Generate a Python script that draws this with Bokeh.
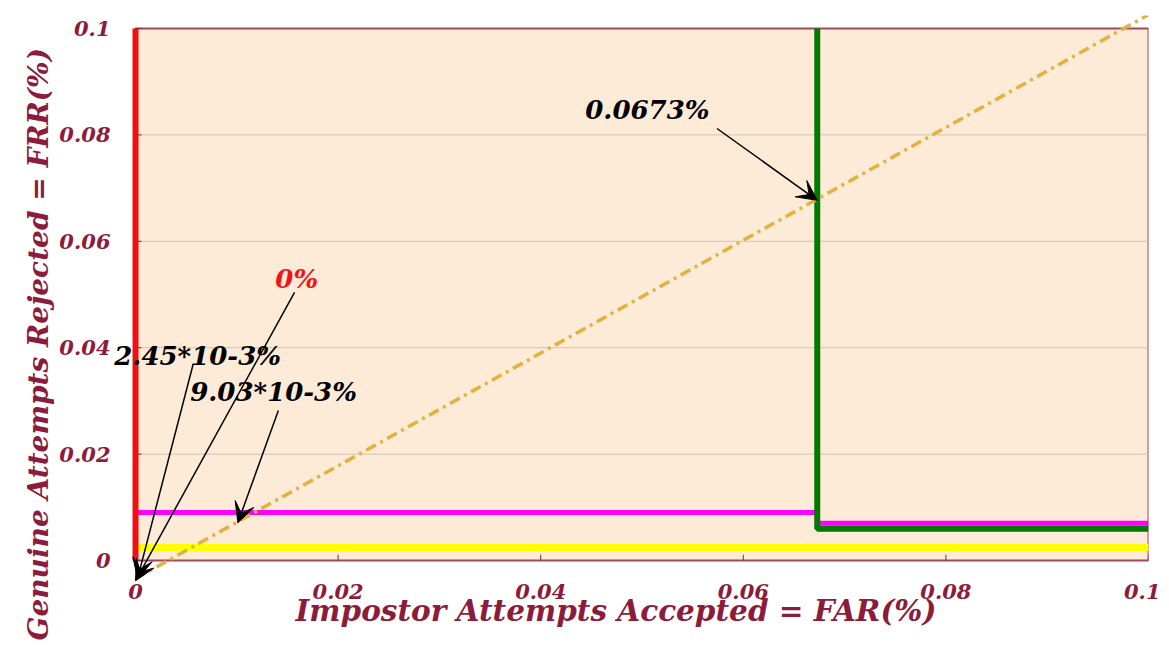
from bokeh.plotting import figure
from bokeh.models import Arrow, VeeHead, Label, FixedTicker, Range1d, BoxAnnotation, Title
from bokeh.embed import file_html
from bokeh.resources import INLINE

# ---- data ----
tick_values = [0, 0.02, 0.04, 0.06, 0.08, 0.1]
tick_labels = ["0", "0.02", "0.04", "0.06", "0.08", "0.1"]
axis_min, axis_max = 0, 0.1

red_x = [0, 0]
red_y = [0, 0.1]
yellow_x = [0, 0.1]
yellow_y = [0.00245, 0.00245]
magenta_x = [0, 0.0673, 0.0673, 0.1]
magenta_y = [0.00903, 0.00903, 0.0070, 0.0070]
green_x = [0.0673, 0.0673, 0.1]
green_y = [0.1, 0.0060, 0.0060]
diag_x = [0, 0.1]
diag_y = [-0.0034, 0.1026]

annot_text = ["0.0673%", "0%", "2.45*10-3%", "9.03*10-3%"]
annot_colors = ["black", "#f01414", "black", "black"]
annot_x = [0.0444, 0.0138, -0.0021, 0.0054]
annot_y = [0.0846, 0.0530, 0.0385, 0.0316]
arrow_x0 = [0.0574, 0.0157, 0.0057, 0.0141]
arrow_y0 = [0.0812, 0.0504, 0.0370, 0.0282]
arrow_x1 = [0.0673, 0.0, 0.0002, 0.0101]
arrow_y1 = [0.0677, -0.0038, -0.0034, 0.0071]

x_title = "Impostor Attempts Accepted = FAR(%)"
y_title = "Genuine Attempts Rejected = FRR(%)"

label_color = "#8c1c3c"
border_color = "#a04858"
font = "DejaVu Serif"
W, H = 1160, 648

# visible frame slightly larger than the axes box so that annotations may overflow it
p = figure(width=W, height=H,
           x_range=Range1d(-0.00247, 0.1), y_range=Range1d(-0.0045, 0.10244),
           output_backend="svg", toolbar_location=None,
           min_border_left=110, min_border_right=W - 1148,
           min_border_top=15, min_border_bottom=H - 584,
           background_fill_color="white", border_fill_color="white")
p.outline_line_color = None
p.xgrid.visible = False
p.ygrid.visible = False

# axes box
p.add_layout(BoxAnnotation(left=axis_min, right=axis_max, bottom=axis_min, top=axis_max,
                           fill_color="#fdebd8", fill_alpha=1.0,
                           line_color=border_color, line_alpha=1.0, line_width=2,
                           level="underlay"))
# horizontal grid lines and inward ticks
p.segment(x0=axis_min, x1=axis_max, y0=tick_values[1:-1], y1=tick_values[1:-1],
          line_color="#cfc2b6", line_width=1)
p.segment(x0=axis_min, x1=0.0006, y0=tick_values, y1=tick_values,
          line_color="#7a2a3a", line_width=1)
p.segment(x0=tick_values, x1=tick_values, y0=axis_min, y1=0.0011,
          line_color="#7a2a3a", line_width=1)

overrides = {v: l for v, l in zip(tick_values, tick_labels)}
for ax in (p.xaxis[0], p.yaxis[0]):
    ax.ticker = FixedTicker(ticks=tick_values, minor_ticks=[])
    ax.major_label_overrides = overrides
    ax.major_tick_line_color = None
    ax.minor_tick_line_color = None
    ax.axis_line_color = None
    ax.major_label_text_font = font
    ax.major_label_text_font_style = "bold italic"
    ax.major_label_text_font_size = "21px"
    ax.major_label_text_color = label_color
p.yaxis.major_label_standoff = -6
p.xaxis.major_label_standoff = -7

p.line(yellow_x, yellow_y, line_color="#ffff00", line_width=7)
p.line(magenta_x, magenta_y, line_color="#ff00ff", line_width=5)
p.line(green_x, green_y, line_color="#007a00", line_width=6)
p.line(red_x, red_y, line_color="#f01010", line_width=6)
p.line(diag_x, diag_y, line_color="#e2b23e", line_width=3.5, line_dash="11 5 3 5")

for i in range(len(annot_text)):
    p.add_layout(Arrow(end=VeeHead(size=20, fill_color="black", line_color="black", line_width=1),
                       x_start=arrow_x0[i], y_start=arrow_y0[i],
                       x_end=arrow_x1[i], y_end=arrow_y1[i],
                       line_color="black", line_width=1.5))
    p.add_layout(Label(x=annot_x[i], y=annot_y[i], text=annot_text[i],
                       text_color=annot_colors[i], text_font=font,
                       text_font_style="bold italic", text_font_size="26px",
                       text_baseline="middle", text_align="left"))

p.add_layout(Title(text=x_title, align="left", offset=185, standoff=-22,
                   text_font=font, text_font_style="bold italic", text_font_size="29.5px",
                   text_color=label_color), "below")
p.add_layout(Title(text=y_title, align="left", offset=-56, standoff=4,
                   text_font=font, text_font_style="bold italic", text_font_size="28px",
                   text_color=label_color), "left")

open("out.html", "w").write(file_html(p, INLINE))
